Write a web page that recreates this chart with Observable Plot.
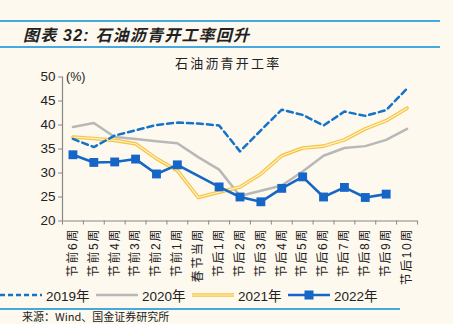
<!DOCTYPE html>
<html><head><meta charset="utf-8">
<script src="https://cdn.jsdelivr.net/npm/d3@7"></script>
<script src="https://cdn.jsdelivr.net/npm/@observablehq/plot@0.6"></script>
<style>
body{margin:0;background:#fdf9ee;}
#wrap{position:relative;width:453px;height:324px;overflow:hidden;background:#fdf9ee;font-family:"Liberation Sans","Noto Sans CJK SC",sans-serif;color:#222;}
.abs{position:absolute;white-space:nowrap;}
.hl{position:absolute;height:2px;background:#45a9df;}
#chart{position:absolute;left:0;top:0;}
.leg{position:absolute;top:285px;font-size:13.5px;display:flex;align-items:center;}
#chart g[aria-label="x-axis tick label"] text{letter-spacing:1.6px;}
</style></head>
<body><div id="wrap">
<div class="hl" style="left:0;top:20px;width:440px"></div>
<div class="abs" style="left:23px;top:22px;font-size:16px;letter-spacing:1.2px;font-weight:bold;font-style:italic;font-family:'Liberation Sans','Noto Sans CJK SC';">图表 32: 石油沥青开工率回升</div>
<div class="hl" style="left:0;top:46px;width:440px"></div>
<div class="abs" style="left:175px;top:53px;font-size:13px;letter-spacing:2.2px;font-family:'Noto Sans CJK SC';">石油沥青开工率</div>
<div class="abs" style="left:66px;top:70px;font-size:12.5px;">(%)</div>
<div id="chart"></div>
<div id="legend"></div>
<div class="hl" style="left:0;top:308px;width:400px"></div>
<div class="abs" style="left:22px;top:310px;font-size:11px;line-height:12px;font-family:'Noto Sans CJK SC';">来源：Wind、国金证券研究所</div>
</div>
<script>
const categories = ["节前6周","节前5周","节前4周","节前3周","节前2周","节前1周","春节当周","节后1周","节后2周","节后3周","节后4周","节后5周","节后6周","节后7周","节后8周","节后9周","节后10周"];
const y2019 = [37.1,35.4,37.8,38.9,40.0,40.5,40.3,39.9,34.5,38.9,43.2,42.1,39.9,42.8,41.9,43.1,47.6];
const y2020 = [39.6,40.4,37.5,37.1,36.6,36.2,33.3,30.7,25.2,26.3,27.4,30.3,33.6,35.2,35.6,36.9,39.2];
const y2021 = [37.5,37.2,36.8,36.1,33.0,30.5,24.9,26.0,27.1,29.8,33.6,35.2,35.6,36.9,39.2,40.9,43.5];
const y2022 = [33.8,32.2,32.3,32.9,29.8,31.7,null,27.1,25.0,24.0,26.8,29.2,25.0,27.0,24.9,25.6,null];
const yTicks = [20,25,30,35,40,45,50];
const seriesNames = ["2019年","2020年","2021年","2022年"];

const toRows = arr => arr.map((v,i)=>({x:i+0.5,v})).filter(d=>d.v!=null);
const r19 = toRows(y2019), r20 = toRows(y2020), r21 = toRows(y2021), r22 = toRows(y2022);

const chart = Plot.plot({
  width:453, height:324,
  marginTop:76.5, marginBottom:103.5, marginLeft:62, marginRight:36,
  style:{background:"transparent", fontFamily:"'Liberation Sans','Noto Sans CJK SC',sans-serif", color:"#222"},
  x:{type:"linear", domain:[0,17]},
  y:{domain:[20,50]},
  marks:[
    Plot.axisY({ticks:yTicks, tickSize:4, tickPadding:3, fontSize:13.5, label:null, stroke:"#888"}),
    Plot.axisX({ticks:d3.range(0,18), tickFormat:()=>"", tickSize:4, label:null, stroke:"#888"}),
    Plot.axisX({ticks:d3.range(0,17).map(i=>i+0.5), tickFormat:(d)=>categories[Math.floor(d)], tickSize:0, tickPadding:7, tickRotate:-90, fontSize:12, label:null}),
    Plot.ruleX([0],{y1:20,y2:50,stroke:"#888",strokeWidth:1.2}),
    Plot.ruleY([20],{x1:0,x2:17,stroke:"#888",strokeWidth:1.2}),
    Plot.line(r20,{x:"x",y:"v",stroke:"#b8b8b8",strokeWidth:2.5}),
    Plot.line(r21,{x:"x",y:"v",stroke:"#f6c343",strokeWidth:3.6}),
    Plot.line(r21,{x:"x",y:"v",stroke:"#fff3c8",strokeWidth:1.2}),
    Plot.line(r19,{x:"x",y:"v",stroke:"#1473c9",strokeWidth:2.5,strokeDasharray:"6,4"}),
    Plot.line(r22,{x:"x",y:"v",stroke:"#1566c6",strokeWidth:2.6}),
    Plot.dot(r22,{x:"x",y:"v",symbol:"square",r:5,fill:"#1566c6",stroke:"none"})
  ]
});
document.getElementById("chart").appendChild(chart);

// legend
const leg = document.getElementById("legend");
const legItems = [
  {name:seriesNames[0], x:0, svg:'<line x1="0" y1="8" x2="42" y2="8" stroke="#1473c9" stroke-width="2.5" stroke-dasharray="5,3"/>'},
  {name:seriesNames[1], x:96, svg:'<line x1="0" y1="8" x2="42" y2="8" stroke="#b8b8b8" stroke-width="2.5"/>'},
  {name:seriesNames[2], x:192, svg:'<line x1="0" y1="8" x2="42" y2="8" stroke="#f6c343" stroke-width="3.6"/><line x1="0" y1="8" x2="42" y2="8" stroke="#fff3c8" stroke-width="1.2"/>'},
  {name:seriesNames[3], x:288, svg:'<line x1="0" y1="8" x2="42" y2="8" stroke="#1566c6" stroke-width="2.6"/><rect x="16.5" y="3.5" width="9" height="9" fill="#1566c6"/>'}
];
legItems.forEach(it=>{
  const d = document.createElement("div");
  d.className="leg";
  d.style.left = it.x+"px";
  d.innerHTML = `<svg width="42" height="16">${it.svg}</svg><span style="margin-left:4px">${it.name}</span>`;
  leg.appendChild(d);
});
</script>
</body></html>
